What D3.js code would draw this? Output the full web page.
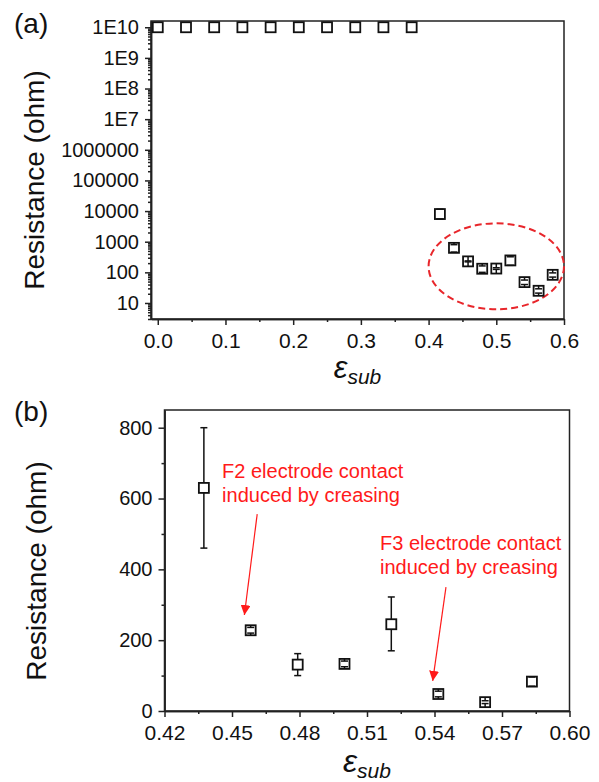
<!DOCTYPE html>
<html>
<head>
<meta charset="utf-8">
<script src="https://cdn.jsdelivr.net/npm/d3@7"></script>
<style>
  body { margin: 0; background: #fff; }
  svg { display: block; font-family: "Liberation Sans", Arial, sans-serif; }
  .axis path, .axis line { stroke: #222; stroke-width: 1.5; }
  .axis text { fill: #111; }
</style>
</head>
<body>
<svg id="chart" width="599" height="782"></svg>
<script>
// open strain points sitting at the 1E10 ceiling (panel a)
const openStrain = [0, 0.0417, 0.0833, 0.125, 0.1667, 0.2083, 0.25, 0.2917, 0.3333, 0.375];
const openRes = [1e10, 1e10, 1e10, 1e10, 1e10, 1e10, 1e10, 1e10, 1e10, 1e10];

// contact points (first one only in panel a)
const strain = [0.4167, 0.4375, 0.4583, 0.4792, 0.5, 0.5208, 0.5417, 0.5625, 0.5833];
const resistance = [8000, 630, 228, 131, 133, 245, 48, 25, 83];
const errLow = [5500, 460, 220, 100, 125, 170, 40, 21, 70];
const errHigh = [11500, 800, 236, 162, 141, 322, 56, 29, 96];

const logTicks = [10, 100, 1000, 1e4, 1e5, 1e6, 1e7, 1e8, 1e9, 1e10];
const logLabels = ["10", "100", "1000", "10000", "100000", "1000000", "1E7", "1E8", "1E9", "1E10"];
const xTicksA = [0, 0.1, 0.2, 0.3, 0.4, 0.5, 0.6];
const xTicksB = [0.42, 0.45, 0.48, 0.51, 0.54, 0.57, 0.60];
const yTicksB = [0, 200, 400, 600, 800];

const svg = d3.select("#chart");
const sq = 10, cap = 3.5;

function drawPoints(g, x, y, pts) {
  pts.forEach(p => {
    const cx = x(p.x), cy = y(p.y);
    g.append("rect")
      .attr("x", cx - sq / 2).attr("y", cy - sq / 2)
      .attr("width", sq).attr("height", sq)
      .attr("fill", "#fff").attr("stroke", "#111").attr("stroke-width", 1.8);
    if (p.lo == null) return;
    [[p.hi, -1], [p.lo, 1]].forEach(([v, s]) => {
      const ey = y(v);
      g.append("line")
        .attr("x1", cx).attr("x2", cx)
        .attr("y1", cy + s * sq / 2).attr("y2", ey)
        .attr("stroke", "#111").attr("stroke-width", 1.5);
      g.append("line")
        .attr("x1", cx - cap).attr("x2", cx + cap)
        .attr("y1", ey).attr("y2", ey)
        .attr("stroke", "#111").attr("stroke-width", 1.5);
    });
  });
}

function frame(g, w, h) {
  g.append("rect").attr("width", w).attr("height", h)
    .attr("fill", "none").attr("stroke", "#222").attr("stroke-width", 1.5);
}

function xTitle(g, cx, yb, big) {
  const t = g.append("text").attr("x", cx).attr("y", yb)
    .attr("text-anchor", "middle").attr("font-style", "italic").attr("fill", "#111");
  t.append("tspan").attr("font-size", big).text("ε");
  t.append("tspan").attr("font-size", 21).attr("dy", 6).text("sub");
}

function yTitle(x, y) {
  svg.append("text")
    .attr("transform", `translate(${x},${y}) rotate(-90)`)
    .attr("text-anchor", "middle").attr("font-size", 28).attr("fill", "#111")
    .text("Resistance (ohm)");
}

// ---------- panel (a) ----------
const A = { left: 151, top: 21, w: 413, h: 298 };
const xa = d3.scaleLinear().domain([-0.01, 0.6]).range([0, A.w]);
const ya = d3.scaleLog().domain([3, 1.6e10]).range([A.h, 0]);
const ga = svg.append("g").attr("transform", `translate(${A.left},${A.top})`);

const minorLog = [];
for (let d = 0; d <= 10; d++) for (let k = 2; k <= 9; k++) {
  const v = k * Math.pow(10, d);
  if (v >= 3 && v <= 1.6e10) minorLog.push(v);
}
ga.append("g").attr("class", "axis")
  .call(d3.axisLeft(ya).tickValues(minorLog).tickSize(3).tickFormat("").tickSizeOuter(0));
ga.append("g").attr("class", "axis")
  .call(d3.axisLeft(ya).tickValues(logTicks).tickSize(6).tickPadding(6).tickSizeOuter(0)
    .tickFormat((d, i) => logLabels[i]))
  .selectAll("text").attr("font-size", 20);
ga.append("g").attr("class", "axis").attr("transform", `translate(0,${A.h})`)
  .call(d3.axisBottom(xa).tickValues(d3.range(0.05, 0.6, 0.1)).tickSize(3).tickFormat("").tickSizeOuter(0));
ga.append("g").attr("class", "axis").attr("transform", `translate(0,${A.h})`)
  .call(d3.axisBottom(xa).tickValues(xTicksA).tickSize(6).tickPadding(8).tickSizeOuter(0)
    .tickFormat(d3.format(".1f")))
  .selectAll("text").attr("font-size", 21);
frame(ga, A.w, A.h);

ga.append("ellipse")
  .attr("cx", xa(0.5)).attr("cy", ya(157))
  .attr("rx", xa(0.6) - xa(0.5)).attr("ry", ya(6.2) - ya(157))
  .attr("fill", "none").attr("stroke", "#e8262b").attr("stroke-width", 2)
  .attr("stroke-dasharray", "7,4");

drawPoints(ga, xa, ya, openStrain.map((x, i) => ({ x, y: openRes[i] })));
drawPoints(ga, xa, ya, strain.map((x, i) => ({ x, y: resistance[i], lo: errLow[i], hi: errHigh[i] })));
xTitle(ga, A.w / 2, 357, 31);
yTitle(44, 180);
svg.append("text").attr("x", 14).attr("y", 33).attr("font-size", 28).attr("fill", "#111").text("(a)");

// ---------- panel (b) ----------
const B = { left: 164.5, top: 410, w: 405, h: 301 };
const xb = d3.scaleLinear().domain([0.42, 0.60]).range([0, B.w]);
const yb = d3.scaleLinear().domain([0, 850]).range([B.h, 0]);
const gb = svg.append("g").attr("transform", `translate(${B.left},${B.top})`);

gb.append("g").attr("class", "axis")
  .call(d3.axisLeft(yb).tickValues([100, 300, 500, 700]).tickSize(3).tickFormat("").tickSizeOuter(0));
gb.append("g").attr("class", "axis")
  .call(d3.axisLeft(yb).tickValues(yTicksB).tickSize(6).tickPadding(6).tickSizeOuter(0))
  .selectAll("text").attr("font-size", 20);
gb.append("g").attr("class", "axis").attr("transform", `translate(0,${B.h})`)
  .call(d3.axisBottom(xb).tickValues([0.435, 0.465, 0.495, 0.525, 0.555, 0.585]).tickSize(3).tickFormat("").tickSizeOuter(0));
gb.append("g").attr("class", "axis").attr("transform", `translate(0,${B.h})`)
  .call(d3.axisBottom(xb).tickValues(xTicksB).tickSize(6).tickPadding(8).tickSizeOuter(0)
    .tickFormat(d3.format(".2f")))
  .selectAll("text").attr("font-size", 21);
frame(gb, B.w, B.h);

drawPoints(gb, xb, yb, strain.slice(1).map((x, i) => ({
  x, y: resistance[i + 1], lo: errLow[i + 1], hi: errHigh[i + 1]
})));

// annotations
const red = "#ff1a1a";
const notes = [
  { x: 0.4456, y: 657, lines: ["F2 electrode contact", "induced by creasing"], from: [0.4612, 556], to: [0.4555, 271] },
  { x: 0.5158, y: 454, lines: ["F3 electrode contact", "induced by creasing"], from: [0.5451, 350], to: [0.5392, 85] }
];
const defs = svg.append("defs");
defs.append("marker").attr("id", "arrow").attr("viewBox", "0 0 10 10")
  .attr("refX", 10).attr("refY", 5).attr("markerWidth", 10).attr("markerHeight", 10)
  .attr("markerUnits", "userSpaceOnUse").attr("orient", "auto")
  .append("path").attr("d", "M0,0L10,5L0,10Z").attr("fill", red);
notes.forEach(n => {
  const t = gb.append("text").attr("x", xb(n.x)).attr("y", yb(n.y))
    .attr("font-size", 20).attr("fill", red);
  n.lines.forEach((l, i) => t.append("tspan").attr("x", xb(n.x)).attr("dy", i ? 24 : 0).text(l));
  gb.append("line")
    .attr("x1", xb(n.from[0])).attr("y1", yb(n.from[1]))
    .attr("x2", xb(n.to[0])).attr("y2", yb(n.to[1]))
    .attr("stroke", red).attr("stroke-width", 1.2).attr("marker-end", "url(#arrow)");
});

xTitle(gb, B.w / 2, 362, 32);
yTitle(46, 571);
svg.append("text").attr("x", 14).attr("y", 421).attr("font-size", 28).attr("fill", "#111").text("(b)");
</script>
</body>
</html>
